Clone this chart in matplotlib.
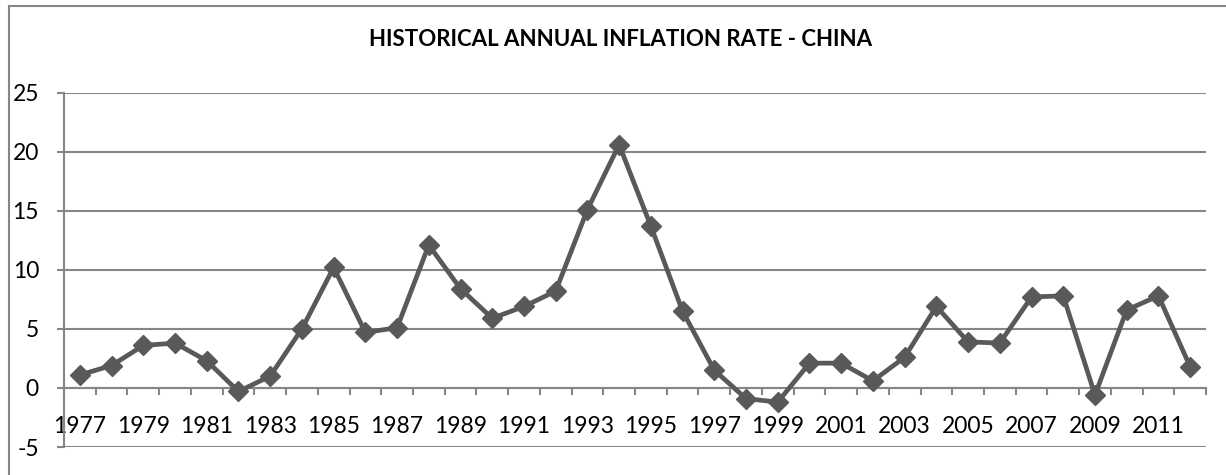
import numpy as np
import matplotlib
matplotlib.use('Agg')
import matplotlib.pyplot as plt
from matplotlib.lines import Line2D
from matplotlib.ticker import FixedLocator, NullFormatter

years = list(range(1977, 2013))
inflation = [1.1, 1.9, 3.6, 3.8, 2.3, -0.3, 1.0, 5.0, 10.2, 4.7, 5.1, 12.1,
             8.4, 5.9, 6.9, 8.2, 15.1, 20.6, 13.7, 6.5, 1.5, -0.9, -1.2, 2.1,
             2.1, 0.6, 2.6, 6.9, 3.9, 3.8, 7.7, 7.8, -0.6, 6.6, 7.8, 1.8]
y_ticks = [-5, 0, 5, 10, 15, 20, 25]
title = 'HISTORICAL ANNUAL INFLATION RATE - CHINA'

grey = '#868686'
line_col = '#595959'

plt.rcParams['font.family'] = ['Lato', 'DejaVu Sans']

W, H = 1226, 475
fig = plt.figure(figsize=(W / 100, H / 100), dpi=100)
ax = fig.add_axes([64 / W, 1 - 447 / H, (1206 - 64) / W, (447 - 92.7) / H])

x = np.arange(len(years))
ax.plot(x, inflation, color=line_col, lw=3.4, marker='D', markersize=10,
        markeredgecolor=line_col, markerfacecolor=line_col, zorder=3, clip_on=False)

ax.set_xlim(-0.5, len(years) - 0.5)
ax.set_ylim(-5, 25)
ax.set_yticks(y_ticks)
ax.set_yticklabels([str(v) for v in y_ticks], fontsize=16.5)
ax.yaxis.grid(True, color=grey, lw=1.5)
ax.set_axisbelow(True)

# x axis crosses at zero, labels every other year
ax.spines['bottom'].set_position(('data', 0))
ax.spines['bottom'].set_color(grey)
ax.spines['bottom'].set_linewidth(1.5)
ax.spines['left'].set_color(grey)
ax.spines['left'].set_linewidth(1.5)
ax.spines['top'].set_visible(False)
ax.spines['right'].set_visible(False)

ax.set_xticks(x[::2])
ax.set_xticklabels([str(y) for y in years[::2]], fontsize=16.5)
ax.xaxis.set_minor_locator(FixedLocator(np.arange(-0.5, len(years), 1.0)))
ax.xaxis.set_minor_formatter(NullFormatter())
ax.tick_params(axis='x', which='major', length=0, pad=20, colors='black')
ax.tick_params(axis='x', which='minor', length=5, width=1.5, color=grey, direction='out')
ax.tick_params(axis='y', length=5, width=1.5, color=grey, pad=13)

fig.text(621 / W, 1 - 40 / H, title, ha='center', va='center',
         fontsize=16, fontweight='bold')

# chart border (left and top edges visible)
fig.add_artist(Line2D([9 / W, 9 / W], [0, 1 - 6 / H], transform=fig.transFigure,
                      color=grey, lw=1.5))
fig.add_artist(Line2D([9 / W, 1], [1 - 6 / H, 1 - 6 / H], transform=fig.transFigure,
                      color=grey, lw=1.5))

fig.savefig('out.png', dpi=100)
